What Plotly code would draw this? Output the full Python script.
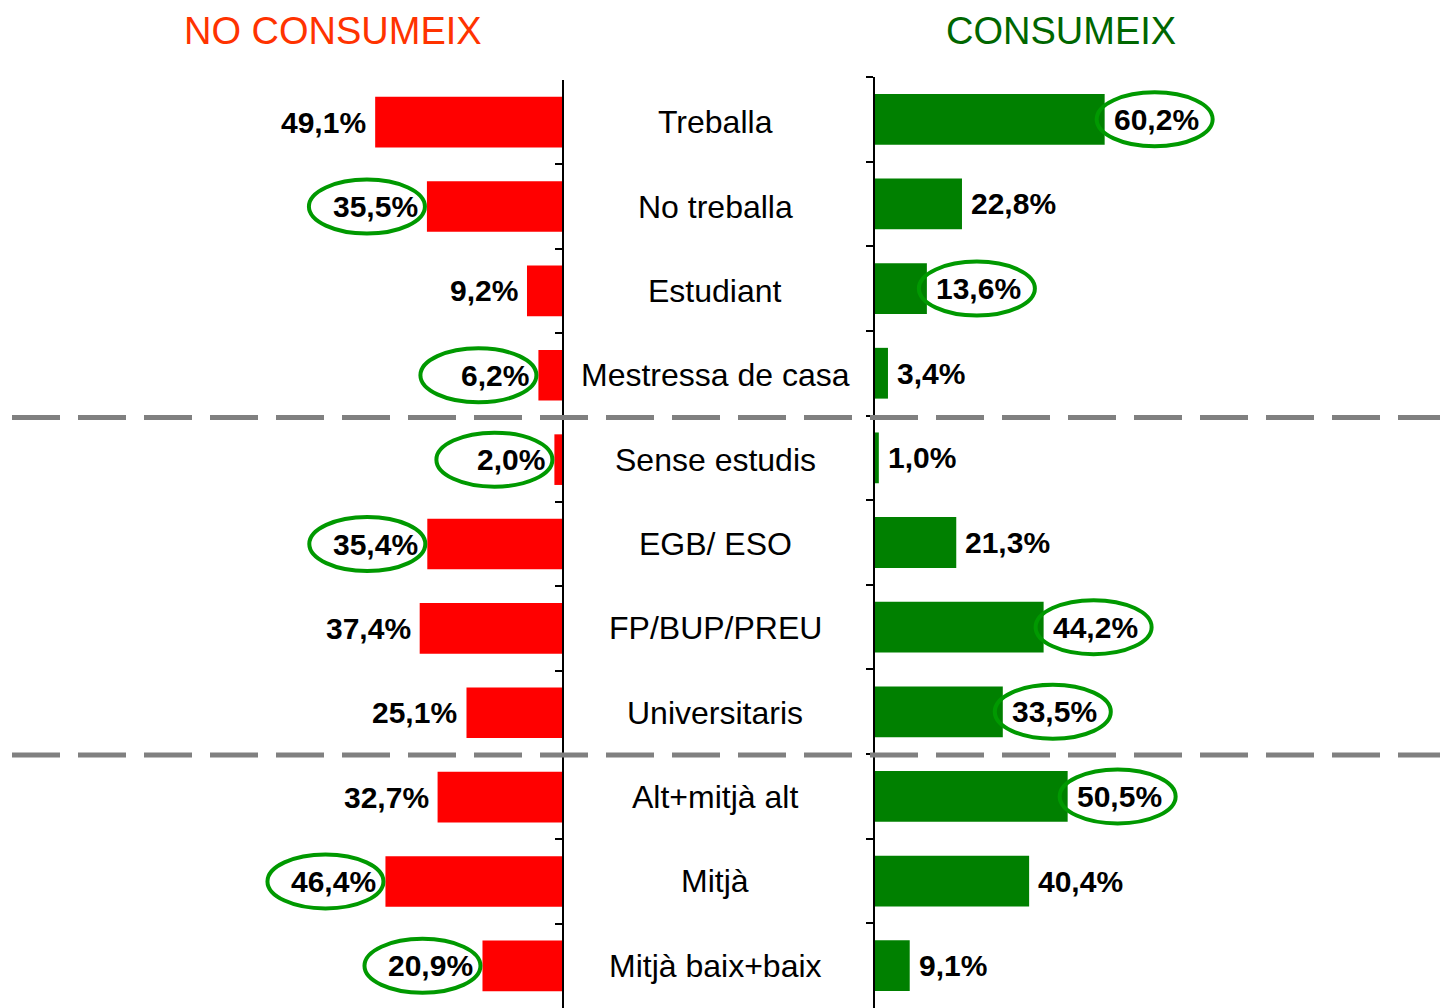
import plotly.graph_objects as go

categories = ["Treballa", "No treballa", "Estudiant", "Mestressa de casa",
              "Sense estudis", "EGB/ ESO", "FP/BUP/PREU", "Universitaris",
              "Alt+mitjà alt", "Mitjà", "Mitjà baix+baix"]
no_consumeix = [49.1, 35.5, 9.2, 6.2, 2.0, 35.4, 37.4, 25.1, 32.7, 46.4, 20.9]
consumeix = [60.2, 22.8, 13.6, 3.4, 1.0, 21.3, 44.2, 33.5, 50.5, 40.4, 9.1]
circled_no = [False, True, False, True, True, True, False, False, False, True, True]
circled_si = [True, False, True, False, False, False, True, True, True, False, False]
group_breaks = [3.5, 7.5]

# the page body adds an 8px margin; lay the figure out in page pixels minus it
OFF = 8
W, H = 1454 - OFF, 1008 - OFF
FONT = "Liberation Sans, Arial, sans-serif"
RED = "#FF0000"
GREEN = "#008000"
ELL = "#009900"


def px(x):
    return (x - OFF) / W


def py(y):
    return 1 - (y - OFF) / H


def fmt(v):
    return f"{v:.1f}".replace(".", ",") + "%"


fig = go.Figure()
fig.add_trace(go.Bar(y=categories, x=no_consumeix, orientation="h",
                     marker=dict(color=RED, line=dict(width=0)),
                     width=0.6, xaxis="x", yaxis="y", hoverinfo="skip"))
fig.add_trace(go.Bar(y=categories, x=consumeix, orientation="h",
                     marker=dict(color=GREEN, line=dict(width=0)),
                     width=0.6, xaxis="x2", yaxis="y2", hoverinfo="skip"))

annotations = []
shapes = []
for i, c in enumerate(categories):
    annotations.append(dict(x=px(715), xref="paper", y=c, yref="y",
                            text=c, showarrow=False, xanchor="center",
                            font=dict(family=FONT, size=32, color="black")))
    annotations.append(dict(x=no_consumeix[i], xref="x", y=c, yref="y",
                            text="<b>" + fmt(no_consumeix[i]) + "</b>",
                            showarrow=False, xanchor="right", xshift=-7,
                            font=dict(family=FONT, size=30, color="black")))
    annotations.append(dict(x=consumeix[i], xref="x2", y=c, yref="y2",
                            text="<b>" + fmt(consumeix[i]) + "</b>",
                            showarrow=False, xanchor="left", xshift=7,
                            font=dict(family=FONT, size=30, color="black")))
    if circled_no[i]:
        shapes.append(dict(type="circle", xref="x", yref="y",
                           xsizemode="pixel", ysizemode="pixel",
                           xanchor=no_consumeix[i], yanchor=i,
                           x0=-60 - 58, x1=-60 + 58, y0=-27, y1=27,
                           line=dict(color=ELL, width=4)))
    if circled_si[i]:
        shapes.append(dict(type="circle", xref="x2", yref="y2",
                           xsizemode="pixel", ysizemode="pixel",
                           xanchor=consumeix[i], yanchor=i,
                           x0=50 - 58, x1=50 + 58, y0=-27, y1=27,
                           line=dict(color=ELL, width=4)))

for b in group_breaks:
    shapes.append(dict(type="line", xref="paper", yref="y",
                       x0=px(12), x1=px(1440), y0=b, y1=b,
                       line=dict(color="#808080", width=5, dash="48px,18px")))

annotations.append(dict(x=px(333), xref="paper", y=1, yref="paper",
                        text="NO CONSUMEIX", showarrow=False,
                        xanchor="center", yanchor="top",
                        font=dict(family=FONT, size=38, color="#FF3300")))
annotations.append(dict(x=px(1061), xref="paper", y=1, yref="paper",
                        text="CONSUMEIX", showarrow=False,
                        xanchor="center", yanchor="top",
                        font=dict(family=FONT, size=38, color="#006600")))

fig.update_layout(
    width=W, height=H,
    margin=dict(l=0, r=0, t=0, b=0),
    paper_bgcolor="white", plot_bgcolor="rgba(0,0,0,0)",
    showlegend=False,
    barmode="overlay",
    xaxis=dict(domain=[0, px(562)], range=[(562 - OFF) / 3.805, 0],
               visible=False, fixedrange=True),
    xaxis2=dict(domain=[px(875), 1], range=[0, (1454 - 875) / 3.815],
                visible=False, fixedrange=True),
    yaxis=dict(domain=[0, py(80)], anchor="x", side="right",
               type="category", categoryorder="array", categoryarray=categories,
               range=[10.5, -0.5], showline=True, linecolor="black",
               linewidth=1.5, ticks="inside", ticklen=7, tickcolor="black",
               tickwidth=1.5, tickson="boundaries", showticklabels=False,
               showgrid=False, zeroline=False),
    yaxis2=dict(domain=[0, py(77)], anchor="x2", side="left",
                type="category", categoryorder="array", categoryarray=categories,
                range=[10.5, -0.5], showline=True, linecolor="black",
                linewidth=1.5, ticks="outside", ticklen=7, tickcolor="black",
                tickwidth=1.5, tickson="boundaries", showticklabels=False,
                showgrid=False, zeroline=False),
    annotations=annotations,
    shapes=shapes,
)

fig.write_html("out.html")
